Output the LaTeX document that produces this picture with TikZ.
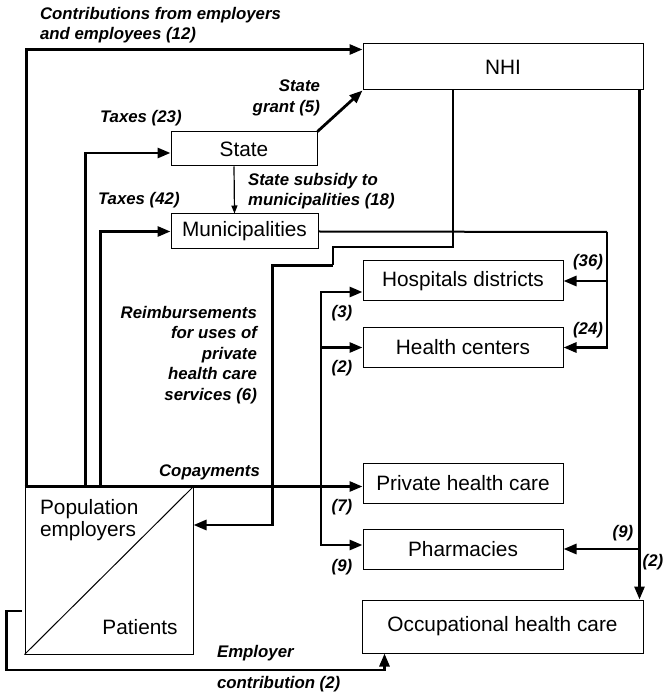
\documentclass[tikz,border=0pt]{standalone}
\usepackage{fontspec}
\setmainfont{Liberation Sans}
\usetikzlibrary{arrows.meta, calc}

\begin{document}
\begin{tikzpicture}[x=0.5pt, y=-0.5pt, font=\fontsize{10.4}{11}\selectfont,
  box/.style={draw, line width=.5pt, inner sep=0pt, minimum width=100pt, minimum height=20pt, align=center},
  wire/.style={line width=1.4pt},
  flow/.style={wire, -{Triangle[length=6.5pt, width=5pt]}},
  lbl/.style={font=\fontsize{8.4}{10.3}\selectfont\bfseries\itshape}]
  \useasboundingbox (0,0) rectangle (663,694);
  \node[box, minimum width=140pt, minimum height=23pt] (nhi) at (503,67) {NHI};
  \node[box, minimum width=73pt, minimum height=17pt] (state) at (244,149) {State};
  \node[box, minimum width=73.5pt, minimum height=17.5pt] (muni) at (244.5,231.5) {Municipalities};
  \node[box] (hosp) at (463,281) {Hospitals districts};
  \node[box, minimum height=19.5pt] (hc) at (463,347.5) {Health centers};
  \node[box] (priv) at (463,483) {Private health care};
  \node[box] (pharm) at (463,549) {Pharmacies};
  \node[box, minimum width=140.5pt, minimum height=26.5pt] (occ) at (502.5,626.5) {Occupational health care};
  \node[box, minimum width=84pt, minimum height=83.5pt] (pop) at (109,570.5) {};
  \draw[line width=.5pt] (pop.south west) -- (pop.north east);
  \node[anchor=west, align=left] (popt) at (33,520) {Population\\employers};
  \node (pat) at (140,627) {Patients};

  \draw[flow] ([xshift=1pt]pop.north west) |- ([yshift=-3pt]nhi.north west);
  \draw[flow] ([xshift=30.5pt]pop.north west) |- ([yshift=-2pt]state.west);
  \draw[flow] ([xshift=38pt]pop.north west) |- (muni.west);
  \draw[flow] (state.north east) -- (nhi.south west);
  \draw[line width=.6pt, -{Triangle[length=4pt, width=3pt]}] ([xshift=-5pt]state.south) -- ([xshift=-5pt]muni.south |- muni.north);

  \coordinate (mbus) at (607,232);
  \draw[line width=1pt] (muni.east) -- (mbus);
  \draw[flow] (mbus) |- (hc.east);
  \draw[flow] (mbus |- hosp.east) -- (hosp.east);

  \draw[line width=1pt] ([xshift=45pt]nhi.south west) -- ++(0,157) -- ++(-120,0) -- ++(0,18) coordinate (rb);
  \draw[flow] (rb) -- ++(-60,0) |- ([yshift=22.75pt]pop.east);

  \draw[flow] (pop.north west) -- (pop.north west -| priv.west);
  \coordinate (bus) at (321,487);
  \draw[flow] (bus) |- ([yshift=-5.5pt]hosp.west);
  \draw[flow] (bus) |- (hc.west);
  \draw[flow] (bus) |- ([yshift=2pt]pharm.west);

  \coordinate (nr) at ([xshift=-2pt]nhi.south east);
  \draw[flow] (nr) -- (nr |- occ.north);
  \draw[flow] (nr |- pharm.east) -- (pharm.east);

  \draw[flow] ([xshift=-1.5pt, yshift=-20.25pt]pop.west) -- ++(-15,0) -- ++(0,59) -| ([xshift=11.5pt]occ.south west);

  \node[lbl, anchor=west, align=left] (lcon) at (33,25) {Contributions from employers\\and employees (12)};
  \node[lbl, anchor=east, align=right] (lgr) at (327,98) {State\\grant (5)};
  \node[lbl, anchor=west] (lt23) at (93,118) {Taxes (23)};
  \node[lbl, anchor=west] (lt42) at (91,200) {Taxes (42)};
  \node[lbl, anchor=west, align=left] (lsub) at (241,191) {State subsidy to\\municipalities (18)};
  \node[lbl, anchor=east, align=right] (lre) at (264,355) {Reimbursements\\for uses of\\private\\health care\\services (6)};
  \node[lbl, anchor=east] (lcop) at (267,472) {Copayments};
  \node[lbl] (l36) at (588,262) {(36)};
  \node[lbl] (l24) at (588,330) {(24)};
  \node[lbl] (l3) at (342,313) {(3)};
  \node[lbl] (l2) at (342,368) {(2)};
  \node[lbl] (l7) at (342,507) {(7)};
  \node[lbl] (l9) at (342,567) {(9)};
  \node[lbl] (l9r) at (623,533) {(9)};
  \node[lbl] (l2r) at (653,562) {(2)};
  \node[lbl, anchor=west] (lemp) at (210,653) {Employer};
  \node[lbl, anchor=west] (lec) at (210,684) {contribution (2)};
\end{tikzpicture}
\end{document}
